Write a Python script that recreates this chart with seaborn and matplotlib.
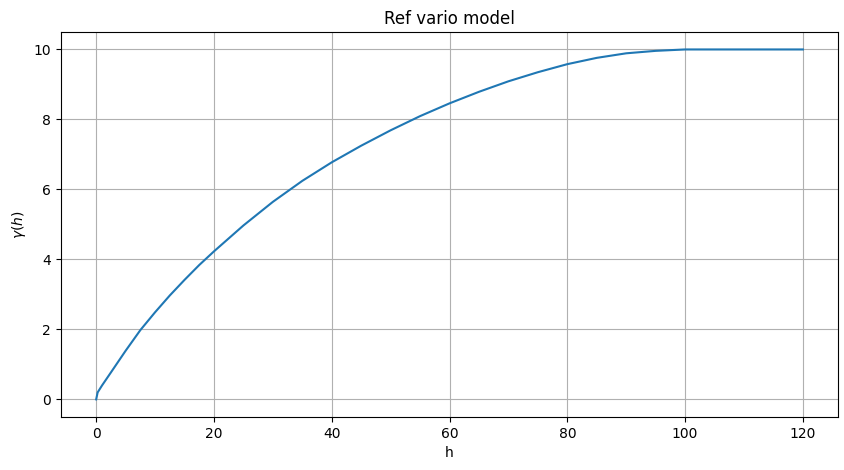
import matplotlib
matplotlib.use("Agg")
import matplotlib.pyplot as plt
import seaborn as sns
import pandas as pd

# values
h_values = [0, 0.25, 1, 2.5, 5, 7.5, 10, 12.5, 15, 17.5, 20, 25, 30, 35, 40, 45, 50,
            55, 60, 65, 70, 75, 80, 85, 90, 95, 100, 110, 120]
gamma_values = [0.0, 0.2, 0.4, 0.77, 1.39, 1.98, 2.49, 2.97, 3.415, 3.84, 4.23, 4.97,
                5.645, 6.245, 6.775, 7.25, 7.69, 8.095, 8.46, 8.79, 9.09, 9.35, 9.58,
                9.76, 9.89, 9.96, 10.0, 10.0, 10.0]

df = pd.DataFrame({"h": h_values, "gamma": gamma_values})

plt.rcdefaults()
fig, ax = plt.subplots(figsize=(8.45, 4.7), dpi=100)
fig.subplots_adjust(left=0.072, right=0.992, top=0.932, bottom=0.113)

sns.lineplot(data=df, x="h", y="gamma", ax=ax, color="#1f77b4", linewidth=1.5)
ax.grid(True, color="#b0b0b0", linewidth=0.8)
ax.set_title("Ref vario model")
ax.set_xlabel("h")
ax.set_ylabel(r"$\gamma(h)$")
ax.set_xlim(-6, 126)
ax.set_ylim(-0.5, 10.5)
ax.set_xticks([0, 20, 40, 60, 80, 100, 120])
ax.set_yticks([0, 2, 4, 6, 8, 10])

fig.savefig("out.png", dpi=100)
